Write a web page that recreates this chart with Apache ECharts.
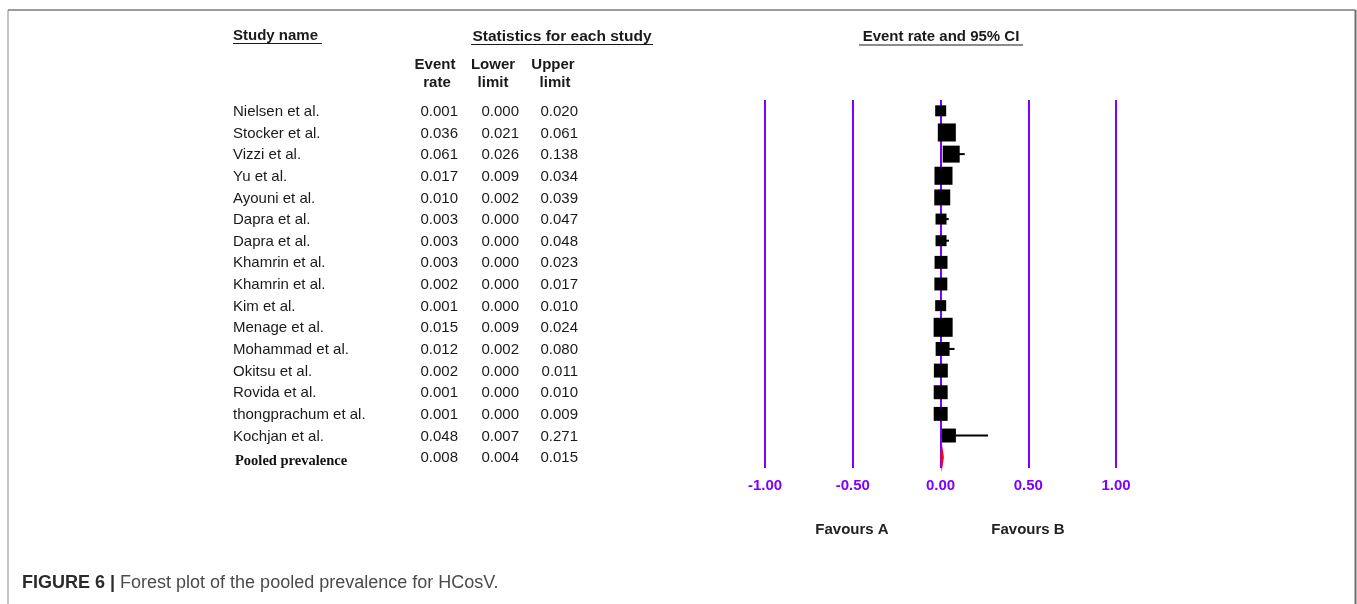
<!DOCTYPE html>
<html>
<head>
<meta charset="utf-8">
<script src="https://cdn.jsdelivr.net/npm/echarts@6/dist/echarts.min.js"></script>
<style>
html,body{margin:0;padding:0;background:#fff;}
#chart{width:1357px;height:604px;}
</style>
</head>
<body>
<div id="chart"></div>
<script>
const studies = ['Nielsen et al.','Stocker et al.','Vizzi et al.','Yu et al.','Ayouni et al.','Dapra et al.','Dapra et al.','Khamrin et al.','Khamrin et al.','Kim et al.','Menage et al.','Mohammad et al.','Okitsu et al.','Rovida et al.','thongprachum et al.','Kochjan et al.'];
const eventRate = [0.001,0.036,0.061,0.017,0.010,0.003,0.003,0.003,0.002,0.001,0.015,0.012,0.002,0.001,0.001,0.048];
const lowerLimit = [0.000,0.021,0.026,0.009,0.002,0.000,0.000,0.000,0.000,0.000,0.009,0.002,0.000,0.000,0.000,0.007];
const upperLimit = [0.020,0.061,0.138,0.034,0.039,0.047,0.048,0.023,0.017,0.010,0.024,0.080,0.011,0.010,0.009,0.271];
// relative study weights (%) estimated from square areas
const weights = [3.6,9.7,8.6,9.7,7.6,3.6,3.6,5.0,5.0,3.6,10.8,5.8,5.8,5.8,5.8,5.8];
const pooledLabel = 'Pooled prevalence';
const pooledRate = 0.008;
const pooledLower = 0.004;
const pooledUpper = 0.015;
const xTicks = [-1, -0.5, 0, 0.5, 1];

const SANS = '"Liberation Sans", Arial, sans-serif';
const SERIF = '"Liberation Serif", "Times New Roman", serif';
const CAP = '"Liberation Sans", Arial, sans-serif';
const PURPLE = '#8000ff';
const nRows = studies.length + 1;

const chart = echarts.init(document.getElementById('chart'), null, {renderer:'canvas'});

function txt(x, y, text, font, align, fill) {
  return {type:'text', x:x, y:y, style:{text:text, font:font, fill:fill||'#1a1a1a', align:align, textAlign:align, verticalAlign:'middle', textVerticalAlign:'middle'}};
}

const tableData = studies.map((s,i)=>[0,i]);
tableData.push([0, studies.length]);

const forestData = studies.map((s,i)=>[eventRate[i], lowerLimit[i], upperLimit[i], i, weights[i]]);

const option = {
  animation:false,
  backgroundColor:'#ffffff',
  grid:{left:765, right:241, top:100, height:368},
  xAxis:{
    type:'value', min:xTicks[0], max:xTicks[xTicks.length-1], interval:0.5,
    axisLine:{show:false}, axisTick:{show:false},
    splitLine:{show:true, lineStyle:{color:PURPLE, width:2}},
    axisLabel:{color:PURPLE, fontWeight:'bold', fontSize:15, fontFamily:SANS, margin:10,
      formatter:v=>v.toFixed(2)}
  },
  yAxis:{type:'value', min:-0.5, max:nRows-0.5, inverse:true, show:false, splitLine:{show:false}},
  series:[
    {
      type:'custom', name:'table', clip:false, silent:true,
      data:tableData,
      encode:{x:0, y:1},
      renderItem:function(params, api){
        const i = params.dataIndex;
        const y = api.coord([0, i])[1] + 1;
        const children = [];
        const nf = '15px ' + SANS;
        if (i < studies.length) {
          children.push(txt(233, y, studies[i], nf, 'left'));
          children.push(txt(458, y, eventRate[i].toFixed(3), nf, 'right'));
          children.push(txt(519, y, lowerLimit[i].toFixed(3), nf, 'right'));
          children.push(txt(578, y, upperLimit[i].toFixed(3), nf, 'right'));
        } else {
          children.push(txt(235, y+3, pooledLabel, 'bold 14.5px ' + SERIF, 'left', '#111'));
          children.push(txt(458, y, pooledRate.toFixed(3), nf, 'right'));
          children.push(txt(519, y, pooledLower.toFixed(3), nf, 'right'));
          children.push(txt(578, y, pooledUpper.toFixed(3), nf, 'right'));
        }
        return {type:'group', children:children};
      }
    },
    {
      type:'custom', name:'studies', silent:true,
      data:forestData,
      encode:{x:[0,1,2], y:3},
      renderItem:function(params, api){
        const est = api.value(0), lo = api.value(1), hi = api.value(2), idx = api.value(3), w = api.value(4);
        const pE = api.coord([est, idx]);
        const pL = api.coord([lo, idx]);
        const pH = api.coord([hi, idx]);
        const side = 5.79 * Math.sqrt(w);
        return {type:'group', children:[
          {type:'line', shape:{x1:pL[0], y1:pE[1], x2:pH[0], y2:pE[1]}, style:{stroke:'#000', lineWidth:2}},
          {type:'rect', shape:{x:pE[0]-side/2, y:pE[1]-side/2, width:side, height:side}, style:{fill:'#000'}}
        ]};
      }
    },
    {
      type:'custom', name:'pooled', silent:true,
      data:[[pooledRate, pooledLower, pooledUpper, studies.length]],
      encode:{x:[0,1,2], y:3},
      renderItem:function(params, api){
        const est = api.value(0), lo = api.value(1), hi = api.value(2), idx = api.value(3);
        const pE = api.coord([est, idx]);
        const pL = api.coord([lo, idx]);
        const pH = api.coord([hi, idx]);
        const h = 8.5;
        return {type:'polygon', shape:{points:[[pL[0], pE[1]], [pE[0], pE[1]-h], [pH[0], pE[1]], [pE[0], pE[1]+h]]},
          style:{fill:'#ff0000', stroke:'#ff0000', lineWidth:1.5}};
      }
    }
  ],
  graphic:[
    // frame
    {type:'line', shape:{x1:8, y1:10, x2:1355.5, y2:10}, style:{stroke:'#7a7a7a', lineWidth:1.5}, silent:true},
    {type:'line', shape:{x1:8, y1:10, x2:8, y2:604}, style:{stroke:'#8a8a8a', lineWidth:1}, silent:true},
    {type:'line', shape:{x1:1355.5, y1:10, x2:1355.5, y2:604}, style:{stroke:'#6e6e6e', lineWidth:2}, silent:true},
    // headers
    {type:'text', x:233, y:36, style:{text:'Study name', font:'bold 15px '+SANS, fill:'#1a1a1a', align:'left', verticalAlign:'middle'}},
    {type:'line', shape:{x1:233, y1:43.5, x2:322, y2:43.5}, style:{stroke:'#1a1a1a', lineWidth:1.2}},
    {type:'text', x:562, y:37, style:{text:'Statistics for each study', font:'bold 15.5px '+SANS, fill:'#1a1a1a', align:'center', verticalAlign:'middle'}},
    {type:'line', shape:{x1:471, y1:44.5, x2:653, y2:44.5}, style:{stroke:'#1a1a1a', lineWidth:1.2}},
    {type:'text', x:941, y:37, style:{text:'Event rate and 95% CI', font:'bold 15px '+SANS, fill:'#1a1a1a', align:'center', verticalAlign:'middle'}},
    {type:'line', shape:{x1:859, y1:45, x2:1023, y2:45}, style:{stroke:'#1a1a1a', lineWidth:1.2}},
    {type:'text', x:435, y:65, style:{text:'Event', font:'bold 15px '+SANS, fill:'#1a1a1a', align:'center', verticalAlign:'middle'}},
    {type:'text', x:437, y:83, style:{text:'rate', font:'bold 15px '+SANS, fill:'#1a1a1a', align:'center', verticalAlign:'middle'}},
    {type:'text', x:493, y:65, style:{text:'Lower', font:'bold 15px '+SANS, fill:'#1a1a1a', align:'center', verticalAlign:'middle'}},
    {type:'text', x:493, y:83, style:{text:'limit', font:'bold 15px '+SANS, fill:'#1a1a1a', align:'center', verticalAlign:'middle'}},
    {type:'text', x:553, y:65, style:{text:'Upper', font:'bold 15px '+SANS, fill:'#1a1a1a', align:'center', verticalAlign:'middle'}},
    {type:'text', x:555, y:83, style:{text:'limit', font:'bold 15px '+SANS, fill:'#1a1a1a', align:'center', verticalAlign:'middle'}},
    // favours
    {type:'text', x:852, y:530, style:{text:'Favours A', font:'bold 15px '+SANS, fill:'#222', align:'center', verticalAlign:'middle'}},
    {type:'text', x:1028, y:530, style:{text:'Favours B', font:'bold 15px '+SANS, fill:'#222', align:'center', verticalAlign:'middle'}},
    // caption
    {type:'text', x:22, y:583, style:{
      text:'{b|FIGURE 6 | }{r|Forest plot of the pooled prevalence for HCosV.}',
      align:'left', verticalAlign:'middle',
      rich:{
        b:{font:'bold 18px '+CAP, fill:'#2b2b2b'},
        r:{font:'18px '+CAP, fill:'#4a4a4a'}
      }
    }}
  ]
};
chart.setOption(option);
</script>
</body>
</html>
